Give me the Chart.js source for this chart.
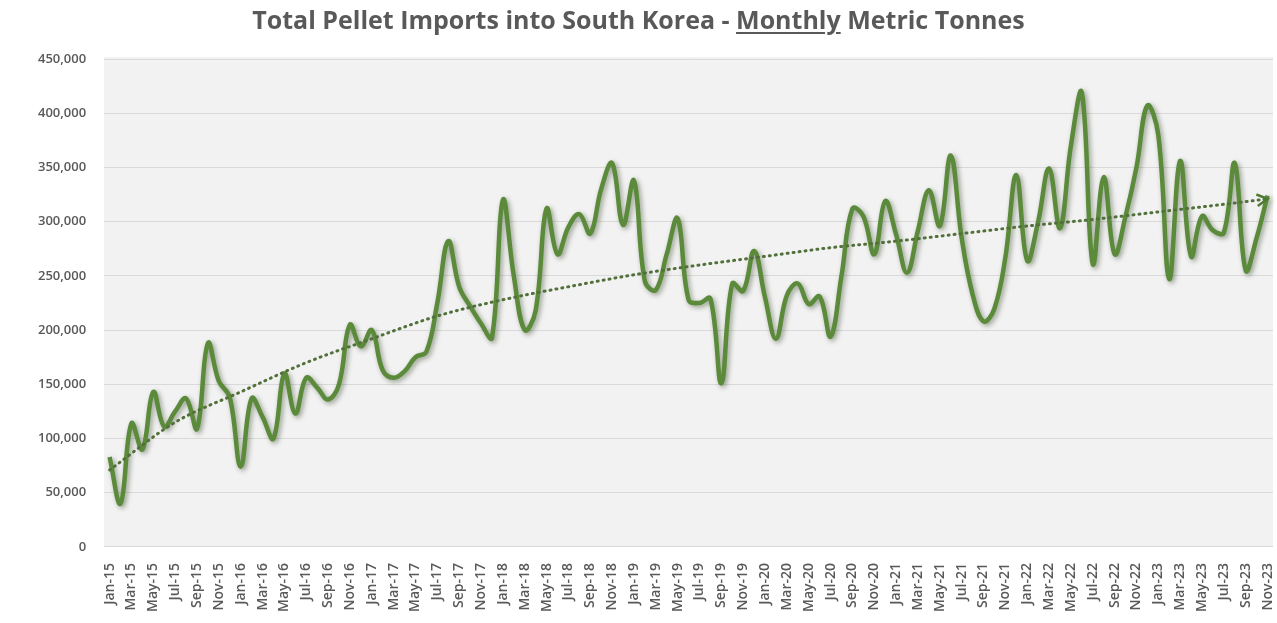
<!DOCTYPE html>
<html>
<head>
<meta charset="utf-8">
<script src="https://cdn.jsdelivr.net/npm/chart.js@4.4.1/dist/chart.umd.min.js"></script>
<style>
    html, body { margin: 0; padding: 0; background: #fff; }
    #wrap { position: relative; width: 1277px; height: 623px; }
    #chartCanva { position: absolute; left: 0; top: 0; }
    #title {
        position: absolute; top: 2px; left: 0; width: 1277px;
        text-align: center; color: #595959;
        font: bold 25px "Open Sans", Lato, sans-serif;
    }
    #title u { text-underline-offset: 3px; text-decoration-thickness: 2px; }
</style>
</head>
<body>
<div id="wrap">
    <canvas id="chartCanva" width="1277" height="623"></canvas>
    <div id="title">Total Pellet Imports into South Korea - <u>Monthly</u> Metric Tonnes</div>
</div>
<script>
// Month labels: Jan-15 ... Nov-23
const monthNames = ["Jan", "Feb", "Mar", "Apr", "May", "Jun", "Jul", "Aug", "Sep", "Oct", "Nov", "Dec"];
const years = ["15", "16", "17", "18", "19", "20", "21", "22", "23"];

// Monthly pellet imports, metric tonnes
const imports = [
    83000, 40000, 114000, 90000, 143000, 111000, 125000, 137000, 109000, 188000, 153000, 138000, // 2015
    74000, 137000, 120000, 100000, 160000, 123000, 156000, 147000, 136000, 150000, 205000, 185000, // 2016
    200000, 163000, 156000, 162000, 175000, 180000, 225000, 282000, 240000, 222000, 206000, 193000, // 2017
    320000, 250000, 200000, 218000, 312000, 270000, 295000, 307000, 289000, 330000, 354000, 297000, // 2018
    338000, 245000, 237000, 270000, 303000, 228000, 225000, 229000, 151000, 243000, 236000, 273000, // 2019
    230000, 192000, 232000, 243000, 224000, 231000, 194000, 250000, 312000, 305000, 270000, 319000, // 2020
    288000, 253000, 292000, 329000, 296000, 361000, 285000, 233000, 208000, 220000, 267000, 343000, // 2021
    264000, 300000, 349000, 294000, 370000, 419000, 261000, 341000, 270000, 305000, 350000, 407000, // 2022
    380000, 247000, 356000, 268000, 305000, 292000, 290000, 354000, 255000, 285000, 324000          // 2023
];

// Trend line, sampled every six months
const trendMonths = [0, 6, 12, 18, 24, 30, 36, 42, 48, 54, 60, 66, 72, 78, 84, 90, 96, 102, 106];
const trendValues = [71000, 115000, 143000, 170000, 192000, 213000, 228000, 240000, 251000, 260000,
    268000, 276000, 282000, 289000, 296000, 302000, 309000, 316000, 321000];

const yTicks = { min: 0, max: 450000, step: 50000 };

const labels = [];
years.forEach((yr) => monthNames.forEach((m) => labels.push(m + "-" + yr)));
labels.length = imports.length;

const trendData = imports.map(() => null);
trendMonths.forEach((m, i) => { trendData[m] = trendValues[i]; });

const GREEN = "#5a8a3a";
const TEXT = "#595959";

// grey fill behind the plot
const plotBackground = {
    id: "plotBackground",
    beforeDraw(chart) {
        const { ctx, chartArea: a } = chart;
        ctx.save();
        ctx.fillStyle = "#f2f2f2";
        ctx.fillRect(a.left, a.top - 2, a.width, a.height + 2);
        ctx.restore();
    }
};

// soft shadow under the imports line
const lineShadow = {
    id: "lineShadow",
    beforeDatasetDraw(chart, args) {
        if (args.index !== 1) return;
        const ctx = chart.ctx;
        ctx.save();
        ctx.shadowColor = "rgba(30, 50, 15, 0.45)";
        ctx.shadowBlur = 5;
        ctx.shadowOffsetX = 2;
        ctx.shadowOffsetY = 2;
    },
    afterDatasetDraw(chart, args) {
        if (args.index !== 1) return;
        chart.ctx.restore();
    }
};

// arrow head at the end of the trend line
const trendArrow = {
    id: "trendArrow",
    afterDatasetsDraw(chart) {
        const pts = chart.getDatasetMeta(0).data;
        const tip = pts[trendMonths[trendMonths.length - 1]];
        const prev = pts[trendMonths[trendMonths.length - 2]];
        const ang = Math.atan2(tip.y - prev.y, tip.x - prev.x);
        const len = 12;
        const ctx = chart.ctx;
        ctx.save();
        ctx.strokeStyle = "#4e7a32";
        ctx.lineWidth = 2.5;
        ctx.beginPath();
        ctx.moveTo(tip.x - len * Math.cos(ang - 0.5), tip.y - len * Math.sin(ang - 0.5));
        ctx.lineTo(tip.x, tip.y);
        ctx.lineTo(tip.x - len * Math.cos(ang + 0.5), tip.y - len * Math.sin(ang + 0.5));
        ctx.stroke();
        ctx.restore();
    }
};

new Chart(document.getElementById("chartCanva"), {
    type: "line",
    data: {
        labels: labels,
        datasets: [
            {
                label: "Trend",
                data: trendData,
                spanGaps: true,
                borderColor: "#52703a",
                borderWidth: 3,
                borderDash: [1, 5],
                borderCapStyle: "round",
                cubicInterpolationMode: "monotone",
                pointRadius: 0,
                fill: false
            },
            {
                label: "Imports",
                data: imports,
                borderColor: GREEN,
                borderWidth: 4.5,
                tension: 0.4,
                pointRadius: 0,
                fill: false
            }
        ]
    },
    options: {
        responsive: false,
        animation: false,
        layout: { padding: { top: 59, left: 20, right: 4, bottom: 3 } },
        plugins: {
            legend: { display: false },
            tooltip: { enabled: false }
        },
        scales: {
            x: {
                offset: true,
                grid: { display: false },
                border: { display: false },
                afterFit: (scale) => { scale.paddingLeft = 0; scale.paddingRight = 0; },
                ticks: {
                    autoSkip: false,
                    minRotation: 90,
                    maxRotation: 90,
                    padding: 8,
                    color: TEXT,
                    font: { family: "Open Sans", size: 14, weight: "600" },
                    callback: (v, i) => (i % 2 === 0 ? labels[i] : "")
                }
            },
            y: {
                min: yTicks.min,
                max: yTicks.max,
                border: { display: false },
                grid: { color: "#d9d9d9", lineWidth: 1, drawTicks: false },
                afterFit: (scale) => { scale.paddingTop = 0; scale.paddingBottom = 0; },
                ticks: {
                    stepSize: yTicks.step,
                    padding: 18,
                    color: TEXT,
                    font: { family: "Open Sans", size: 13, weight: "600" },
                    callback: (v) => v.toLocaleString("en-US")
                }
            }
        }
    },
    plugins: [plotBackground, lineShadow, trendArrow]
});
</script>
</body>
</html>
